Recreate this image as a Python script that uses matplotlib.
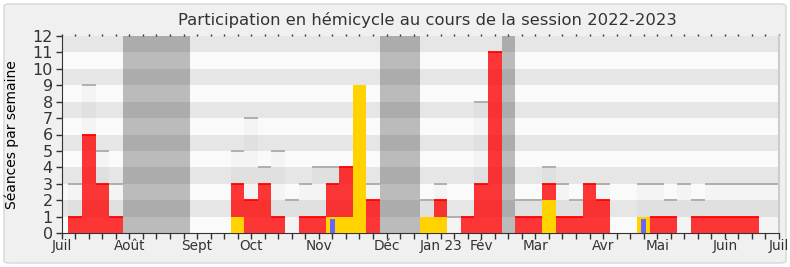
import numpy as np
import matplotlib; matplotlib.use("Agg")
import matplotlib.pyplot as plt
from matplotlib.patches import FancyBboxPatch

# one value per week, session 2022-2023 (week 0 = first week of July)
seances_hemicycle = [3, 9, 5, 3, 0, 0, 0, 0, 0, 0, 0, 0, 5, 7, 4, 5, 2, 3, 4, 4,
                     4, 9, 3, 0, 0, 0, 2, 3, 1, 1, 8, 11, 0, 2, 2, 4, 3, 2, 3, 3,
                     0, 0, 3, 3, 2, 3, 2, 3, 3, 3, 3, 3, 3]
presences = [1, 6, 3, 1, 0, 0, 0, 0, 0, 0, 0, 0, 3, 2, 3, 1, 0, 1, 1, 3,
             4, 9, 2, 0, 0, 0, 1, 2, 0, 1, 3, 11, 0, 1, 1, 3, 1, 1, 3, 2,
             0, 0, 1, 1, 1, 0, 1, 1, 1, 1, 1, 0, 0]
participations = [0, 0, 0, 0, 0, 0, 0, 0, 0, 0, 0, 0, 1, 0, 0, 0, 0, 0, 0, 1,
                  1, 9, 0, 0, 0, 0, 1, 1, 0, 0, 0, 0, 0, 0, 0, 2, 0, 0, 0, 0,
                  0, 0, 1, 0, 0, 0, 0, 0, 0, 0, 0, 0, 0]
questions = [0] * 19 + [0.85] + [0] * 22 + [0.85] + [0] * 10
vacances = [4, 5, 6, 7, 8, 23, 24, 25, 32]

mois = ["Juil", "Août", "Sept", "Oct", "Nov", "Déc", "Jan 23", "Fév",
        "Mar", "Avr", "Mai", "Juin", "Juil"]
mois_pos = [0, 5, 10, 14, 19, 24, 28, 31, 35, 40, 44, 49, 53]

TXT = "#333333"
plt.rcParams.update({"font.family": "DejaVu Sans", "text.color": TXT,
                     "xtick.color": TXT, "ytick.color": TXT})

fig = plt.figure(figsize=(7.9, 2.67), dpi=100, facecolor="white")
fig.patches.append(FancyBboxPatch((4 / 790, 4 / 267), 782 / 790, 259 / 267,
                                  boxstyle="round,pad=0,rounding_size=0.008",
                                  transform=fig.transFigure, facecolor="#f0f0f0",
                                  edgecolor="#dcdcdc", lw=1.2, zorder=-10))

ax = fig.add_axes([61.7 / 790, 34 / 267, 717.3 / 790, 197 / 267])
ax.set_facecolor("#fafafa")
nweeks = len(seances_hemicycle)
x = np.arange(nweeks) + 1
ax.set_xlim(0, 53)
ax.set_ylim(0, 12)

# horizontal stripes
for y0 in range(1, 12, 2):
    ax.axhspan(y0, y0 + 1, color="#e6e6e6", lw=0, zorder=0)

# holidays, grouped in contiguous runs
vac = sorted(vacances)
runs = []
for w in vac:
    if runs and w == runs[-1][1] + 1:
        runs[-1][1] = w
    else:
        runs.append([w, w])
for a, b in runs:
    ax.axvspan(a + 0.5, b + 1.5, color="black", alpha=0.25, lw=0, zorder=1)

hemi = np.array(seances_hemicycle, float)
pres = np.array(presences, float)
part = np.array(participations, float)
ques = np.array(questions, float)

ax.bar(x, hemi, width=1.0, color=(0, 0, 0, 0.025), lw=0, zorder=2)
m = (hemi > 0) & (hemi > pres) & (hemi > part)
ax.hlines(hemi[m], x[m] - 0.5, x[m] + 0.5, color="#aaaaaa", lw=1.3, zorder=2.5)

ax.bar(x, pres, width=1.0, color=(1, 0, 0, 0.78), lw=0, zorder=3)
m = (pres > 0) & (pres > part)
ax.hlines(pres[m], x[m] - 0.5, x[m] + 0.5, color="#ff0000", lw=1.3, zorder=3.5)

ax.bar(x, part, width=1.0, color="#ffd200", lw=0, zorder=4)
ax.bar(x, ques, width=0.37, color="#6666ff", lw=0, zorder=5)

# axes cosmetics
ax.spines["top"].set_visible(False)
ax.spines["left"].set_color(TXT)
ax.spines["bottom"].set_color(TXT)
ax.spines["right"].set_color("#cccccc")
ax.spines["right"].set_linewidth(1.5)

ax.set_yticks(range(0, 13))
ax.tick_params(axis="y", length=4, width=1, labelsize=11.5, pad=2.5)
ax.set_xticks(mois_pos)
ax.set_xticklabels(mois)
ax.set_xticks(range(0, 54), minor=True)
ax.tick_params(axis="x", which="both", length=4, width=1, labelsize=9.8, pad=0.5)

top = ax.secondary_xaxis("top")
top.set_xticks(range(0, 54))
top.tick_params(length=1.5, width=1, labeltop=False, color=TXT)
top.spines["top"].set_visible(False)

ax.set_ylabel("Séances par semaine", fontsize=10)
ax.yaxis.set_label_coords((19 - 61.7) / 717.3, 0.5)

fig.text(427.5 / 790, 1 - 20 / 267, "Participation en hémicycle au cours de la session 2022-2023",
         ha="center", va="center", fontsize=11.8)

fig.savefig("out.png", dpi=100, facecolor=fig.get_facecolor())
